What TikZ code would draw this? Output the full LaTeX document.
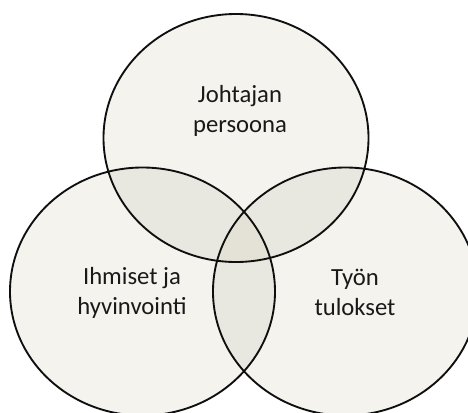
\documentclass[tikz,border=0pt]{standalone}
\usepackage{fontspec}
\setmainfont{Carlito}
\definecolor{oneset}{RGB}{244,243,238}
\definecolor{twoset}{RGB}{233,232,224}
\definecolor{threeset}{RGB}{228,226,214}
\definecolor{rim}{RGB}{15,15,15}
\begin{document}
\begin{tikzpicture}[x=0.75pt,y=-0.75pt,
  rimline/.style={draw=rim,line width=1.4pt},
  label/.style={align=center,font=\fontsize{18.5}{22.5}\selectfont,text=black!90,inner sep=0pt}]
  % canvas
  \fill[white] (0,0) rectangle (468,412);
  \useasboundingbox (0,0) rectangle (468,412);
  \clip (0,0) rectangle (468,412);
  % the three sets
  \def\ellT{(236,138) ellipse [x radius=132.5, y radius=124]}
  \def\ellL{(142.5,291.5) ellipse [x radius=132.5, y radius=124]}
  \def\ellR{(345.5,291.5) ellipse [x radius=132.5, y radius=124]}
  % single areas
  \fill[oneset] \ellT;
  \fill[oneset] \ellL;
  \fill[oneset] \ellR;
  % pairwise overlaps
  \begin{scope}\clip \ellT; \fill[twoset] \ellL; \fill[twoset] \ellR;\end{scope}
  \begin{scope}\clip \ellL; \fill[twoset] \ellR;\end{scope}
  % common centre
  \begin{scope}\clip \ellT; \clip \ellL; \fill[threeset] \ellR;\end{scope}
  % outlines
  \path[rimline] \ellT;
  \path[rimline] \ellL;
  \path[rimline] \ellR;
  % labels
  \node[label] (persona) at (240,111) {Johtajan\\persoona};
  \node[label] (people) at (132,293) {Ihmiset ja\\hyvinvointi};
  \node[label] (results) at (355,292) {Työn\\tulokset};
\end{tikzpicture}
\end{document}
